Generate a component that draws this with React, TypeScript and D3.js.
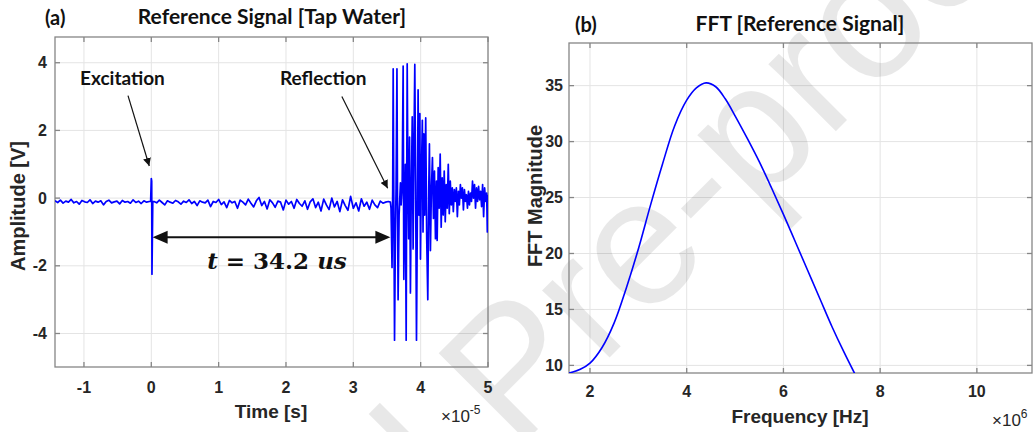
import React from 'react';
import * as d3 from 'd3';

const W = 1035;
const H = 432;

// ---------- Panel (a): Reference signal ----------
const timeTicks = [-1, 0, 1, 2, 3, 4, 5];
const ampTicks = [-4, -2, 0, 2, 4];

const noiseStep = 0.04;
const preNoiseStart = -1.43;
const preNoise = [
  -0.08, -0.13, -0.06, -0.15, -0.09, -0.12, -0.04, -0.14, -0.1, -0.18,
  -0.07, -0.11, -0.13, -0.05, -0.16, -0.09, -0.12, -0.08, -0.2, -0.1,
  -0.06, -0.14, -0.11, -0.09, -0.17, -0.07, -0.12, -0.1, -0.15, -0.05,
  -0.13, -0.09, -0.16, -0.08, -0.12, -0.1,
];
const pulseTime = [-0.01, 0.0, 0.006, 0.01, 0.022];
const pulseAmp = [-0.1, 0.58, 0.5, -2.25, -0.1];
const postNoiseStart = 0.04;
const postNoise = [
  -0.1, -0.14, -0.06, -0.13, -0.2, -0.08, -0.12, -0.15, -0.07, -0.11,
  -0.18, -0.09, -0.13, -0.05, -0.16, -0.1, -0.22, -0.08, -0.12, -0.14,
  -0.06, -0.25, -0.1, -0.13, -0.04, -0.19, -0.11, -0.28, -0.07, -0.14,
  -0.1, -0.3, -0.06, -0.12, -0.2, -0.03, -0.15, -0.26, -0.08, 0.02,
  -0.22, -0.1, -0.32, -0.05, -0.14, -0.27, -0.09, -0.12, -0.35, -0.06,
  -0.18, -0.1, -0.3, -0.04, -0.16, -0.24, -0.08, -0.33, -0.11, -0.02,
  -0.28, -0.12, -0.38, -0.03, -0.2, -0.34, 0.0, -0.26, -0.1, -0.4,
  -0.05, -0.22, -0.36, 0.05, -0.3, -0.14, -0.38, -0.02, -0.24, -0.12,
  -0.33, -0.06, -0.2, -0.28, -0.09, -0.15, -0.12, -0.1,
];
// reflection burst: [time (x1e-5 s), amplitude (V)]
const reflection: [number, number][] = [
  [3.55, -0.12], [3.56, -0.3], [3.575, -2.05], [3.585, 0.3], [3.592, 3.82],
  [3.6, 0.5], [3.612, -4.2], [3.625, -1.0], [3.635, 0.3], [3.648, 3.82],
  [3.656, 0.0], [3.665, -3.0], [3.68, -0.5], [3.7, 0.45], [3.71, -0.2],
  [3.725, 0.3], [3.74, 3.9], [3.75, -2.4], [3.76, -0.8], [3.772, 1.0],
  [3.785, -4.2], [3.79, -1.0], [3.8, 3.97], [3.812, 0.2], [3.822, -1.2],
  [3.835, 1.8], [3.848, -2.8], [3.86, 0.0], [3.875, 2.4], [3.888, -1.5],
  [3.9, 1.5], [3.913, 3.95], [3.925, 0.5], [3.938, -4.2], [3.95, -0.8],
  [3.962, 3.2], [3.975, -0.5], [3.988, 2.5], [3.997, -1.8], [4.01, 0.6],
  [4.025, 2.3], [4.035, -1.0], [4.047, 1.9], [4.06, -0.5], [4.075, 2.37],
  [4.09, -1.2], [4.106, -3.0], [4.12, 0.2], [4.13, 1.6], [4.145, -1.55],
  [4.16, 0.3], [4.175, 1.2], [4.19, -0.6], [4.205, 0.8], [4.22, -1.2],
  [4.235, 0.5], [4.245, -1.25], [4.26, 0.9], [4.275, -0.3], [4.29, 1.3],
  [4.305, -0.86], [4.32, 0.6], [4.335, -0.5], [4.35, 0.8], [4.365, -0.7],
  [4.38, 0.4], [4.395, -0.3], [4.41, 1.0], [4.425, -0.46], [4.44, 0.5],
  [4.455, -0.2], [4.47, 0.3], [4.485, -0.4], [4.5, 0.25], [4.515, -0.1],
  [4.53, 0.3], [4.545, -0.55], [4.56, 0.2], [4.575, -0.2], [4.59, 0.4],
  [4.605, 0.0], [4.62, 0.3], [4.635, -0.35], [4.65, 0.25], [4.665, -0.1],
  [4.68, 0.1], [4.695, -0.3], [4.71, 0.2], [4.725, -0.2], [4.74, 0.15],
  [4.755, -0.1], [4.77, 0.5], [4.785, 0.0], [4.8, 0.4], [4.815, -0.3],
  [4.83, 0.3], [4.845, -0.1], [4.86, 0.35], [4.875, -0.05], [4.89, 0.2],
  [4.905, -0.25], [4.92, 0.4], [4.935, -0.55], [4.95, 0.3], [4.965, -0.1],
  [4.98, 0.15], [4.99, -1.0], [5.0, 0.1],
];

// annotation anchors (data coordinates)
const excitationArrow = { from: [-0.346, 3.03], to: [-0.03, 0.95] };
const reflectionArrow = { from: [2.83, 3.0], to: [3.51, 0.29] };
const delayArrow = { t0: 0.02, t1: 3.55, amp: -1.16 };

// ---------- Panel (b): FFT ----------
const freqTicks = [2, 4, 6, 8, 10];
const magTicks = [10, 15, 20, 25, 30, 35];
const fftFreq = [1.55, 1.8, 2.0, 2.25, 2.5, 2.75, 3.0, 3.25, 3.5, 3.75, 4.0, 4.2, 4.4, 4.6, 4.8, 5.0, 5.25, 5.5, 5.75, 6.0, 6.25, 6.5, 6.75, 7.0, 7.25, 7.47];
const fftMag = [9.3, 9.65, 10.2, 11.6, 13.8, 16.9, 20.4, 24.3, 28.0, 31.4, 33.7, 34.8, 35.25, 34.9, 33.8, 32.3, 30.3, 28.2, 25.9, 23.5, 21.0, 18.5, 16.0, 13.5, 11.2, 9.3];

const TICK_FONT = '"Liberation Sans", Arial, sans-serif';
const TITLE_FONT = 'Lato, "Open Sans", sans-serif';
const GRID = '#e4e4e4';
const AXIS = '#868686';
const TXT = '#262626';

type Box = { x0: number; x1: number; y0: number; y1: number };

function Grid({ box, xs, ys, xt, yt, id }: { box: Box; xs: any; ys: any; xt: number[]; yt: number[]; id: string }) {
  return (
    <g>
      {xt.map((t) => (
        <line key={id + 'gx' + t} x1={xs(t)} x2={xs(t)} y1={box.y0} y2={box.y1} stroke={GRID} strokeWidth={1} />
      ))}
      {yt.map((t) => (
        <line key={id + 'gy' + t} x1={box.x0} x2={box.x1} y1={ys(t)} y2={ys(t)} stroke={GRID} strokeWidth={1} />
      ))}
    </g>
  );
}

function BoxTicks({ box, xs, ys, xt, yt, id }: { box: Box; xs: any; ys: any; xt: number[]; yt: number[]; id: string }) {
  const tl = 5;
  return (
    <g stroke={AXIS} strokeWidth={1.3} fill="none">
      <rect x={box.x0} y={box.y0} width={box.x1 - box.x0} height={box.y1 - box.y0} />
      {xt.map((t) => (
        <g key={id + 'tx' + t}>
          <line x1={xs(t)} x2={xs(t)} y1={box.y1} y2={box.y1 - tl} />
          <line x1={xs(t)} x2={xs(t)} y1={box.y0} y2={box.y0 + tl} />
        </g>
      ))}
      {yt.map((t) => (
        <g key={id + 'ty' + t}>
          <line x1={box.x0} x2={box.x0 + tl} y1={ys(t)} y2={ys(t)} />
          <line x1={box.x1} x2={box.x1 - tl} y1={ys(t)} y2={ys(t)} />
        </g>
      ))}
    </g>
  );
}

export default function App() {
  const A: Box = { x0: 55, x1: 488, y0: 37, y1: 367 };
  const B: Box = { x0: 569, x1: 1032, y0: 43, y1: 373 };

  const xA = d3.scaleLinear().domain([-1.43, 5]).range([A.x0, A.x1]);
  const yA = d3.scaleLinear().domain([-4.99, 4.76]).range([A.y1, A.y0]);
  const xB = d3.scaleLinear().domain([1.566, 11.14]).range([B.x0, B.x1]);
  const yB = d3.scaleLinear().domain([9.32, 38.81]).range([B.y1, B.y0]);

  const signal: [number, number][] = [
    ...preNoise.map((v, i) => [preNoiseStart + i * noiseStep, v] as [number, number]),
    ...pulseTime.map((t, i) => [t, pulseAmp[i]] as [number, number]),
    ...postNoise.map((v, i) => [postNoiseStart + i * noiseStep, v] as [number, number]),
    ...reflection,
  ];
  const sigPath = d3
    .line<[number, number]>()
    .x((d) => xA(d[0]))
    .y((d) => yA(d[1]))(signal) || '';

  const fftPts = fftFreq.map((f, i) => [f, fftMag[i]] as [number, number]);
  const fftPath = d3
    .line<[number, number]>()
    .x((d) => xB(d[0]))
    .y((d) => yB(d[1]))
    .curve(d3.curveCatmullRom.alpha(0.5))(fftPts) || '';

  const ea = excitationArrow;
  const ra = reflectionArrow;
  const da = delayArrow;
  const dy = yA(da.amp);
  const dx0 = xA(da.t0);
  const dx1 = xA(da.t1);
  const hl = 15;
  const hw = 6.5;

  return (
    <svg width={W} height={H} style={{ position: 'absolute', left: 0, top: 0, background: '#fff' }}>
      <defs>
        <clipPath id="clipA">
          <rect x={A.x0} y={A.y0} width={A.x1 - A.x0} height={A.y1 - A.y0} />
        </clipPath>
        <clipPath id="clipB">
          <rect x={B.x0} y={B.y0} width={B.x1 - B.x0} height={B.y1 - B.y0} />
        </clipPath>
        <clipPath id="clipAll">
          <rect x={0} y={0} width={W} height={H} />
        </clipPath>
        <marker id="ah" markerUnits="userSpaceOnUse" markerWidth={10} markerHeight={8} refX={8} refY={4} orient="auto">
          <path d="M0,0 L8,4 L0,8 Z" fill="#111" />
        </marker>
      </defs>
      <rect x={0} y={0} width={W} height={H} fill="#fff" />

      <Grid box={A} xs={xA} ys={yA} xt={timeTicks} yt={ampTicks} id="a" />
      <Grid box={B} xs={xB} ys={yB} xt={freqTicks} yt={magTicks} id="b" />

      {/* watermark */}
      <g clipPath="url(#clipAll)">
        <text
          transform="translate(63,904) rotate(-45)"
          fontFamily={TICK_FONT}
          fontSize={180}
          fill="#000"
          fillOpacity={0.09}
        >
          Journal Pre-proof
        </text>
      </g>

      <BoxTicks box={A} xs={xA} ys={yA} xt={timeTicks} yt={ampTicks} id="a" />
      <BoxTicks box={B} xs={xB} ys={yB} xt={freqTicks} yt={magTicks} id="b" />

      <path d={sigPath} fill="none" stroke="#0000ff" strokeWidth={1.7} clipPath="url(#clipA)" strokeLinejoin="round" />
      <path d={fftPath} fill="none" stroke="#0000ff" strokeWidth={1.6} clipPath="url(#clipB)" />

      {/* tick labels */}
      <g fontFamily={TICK_FONT} fontWeight="bold" fontSize={16} fill={TXT}>
        {timeTicks.map((t) => (
          <text key={'lx' + t} x={xA(t)} y={393} textAnchor="middle">{t}</text>
        ))}
        {ampTicks.map((t) => (
          <text key={'ly' + t} x={A.x0 - 8} y={yA(t)} dy="0.35em" textAnchor="end">{t}</text>
        ))}
        {freqTicks.map((t) => (
          <text key={'lfx' + t} x={xB(t)} y={397} textAnchor="middle">{t}</text>
        ))}
        {magTicks.map((t) => (
          <text key={'lfy' + t} x={B.x0 - 6} y={yB(t)} dy="0.35em" textAnchor="end">{t}</text>
        ))}
      </g>

      {/* axis labels */}
      <g fontFamily={TICK_FONT} fontWeight="bold" fontSize={19} fill={TXT}>
        <text x={271} y={418} textAnchor="middle">Time [s]</text>
        <text x={800} y={423} textAnchor="middle">Frequency [Hz]</text>
        <text transform="translate(25,206) rotate(-90)" textAnchor="middle" fontSize={20}>Amplitude [V]</text>
        <text transform="translate(542,196) rotate(-90)" textAnchor="middle" fontSize={20}>FFT Magnitude</text>
      </g>
      <g fontFamily={TICK_FONT} fontSize={17} fill={TXT}>
        <text x={441} y={422}>
          ×10<tspan fontSize={12} dy={-8}>-5</tspan>
        </text>
        <text x={992} y={426}>
          ×10<tspan fontSize={12} dy={-8}>6</tspan>
        </text>
      </g>

      {/* titles */}
      <g fontFamily={TITLE_FONT} fontWeight="bold" fill="#111">
        <text x={45} y={25} fontSize={20}>(a)</text>
        <text x={272} y={24} fontSize={21} textAnchor="middle">Reference Signal [Tap Water]</text>
        <text x={575} y={32} fontSize={20}>(b)</text>
        <text x={800} y={31} fontSize={21} textAnchor="middle">FFT [Reference Signal]</text>
        <text x={80} y={85} fontSize={19}>Excitation</text>
        <text x={280} y={85} fontSize={19}>Reflection</text>
      </g>

      {/* annotations */}
      <line x1={xA(ea.from[0])} y1={yA(ea.from[1])} x2={xA(ea.to[0])} y2={yA(ea.to[1])} stroke="#111" strokeWidth={1.2} markerEnd="url(#ah)" />
      <line x1={xA(ra.from[0])} y1={yA(ra.from[1])} x2={xA(ra.to[0])} y2={yA(ra.to[1])} stroke="#111" strokeWidth={1.2} markerEnd="url(#ah)" />
      <line x1={dx0 + hl - 2} x2={dx1 - hl + 2} y1={dy} y2={dy} stroke="#111" strokeWidth={2} />
      <path d={`M${dx0},${dy} L${dx0 + hl},${dy - hw} L${dx0 + hl},${dy + hw} Z`} fill="#111" />
      <path d={`M${dx1},${dy} L${dx1 - hl},${dy - hw} L${dx1 - hl},${dy + hw} Z`} fill="#111" />
      <text x={277} y={269} textAnchor="middle" fontFamily='"DejaVu Serif", "Liberation Serif", serif' fontWeight="bold" fontSize={23} fill="#111">
        <tspan fontStyle="italic">t</tspan> = 34.2 <tspan fontStyle="italic">us</tspan>
      </text>
    </svg>
  );
}
